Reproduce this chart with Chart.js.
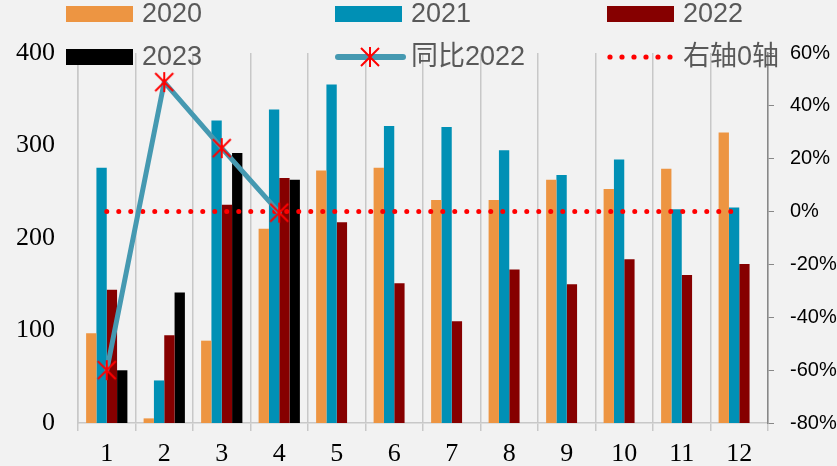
<!DOCTYPE html>
<html><head><meta charset="utf-8">
<script src="https://cdn.jsdelivr.net/npm/chart.js@4/dist/chart.umd.min.js"></script>
<style>html,body{margin:0;padding:0;background:#f2f2f2;overflow:hidden}#wrap{width:837px;height:466px;position:relative}</style>
</head><body><div id="wrap"><canvas id="c" width="837" height="466"></canvas></div>
<script>
const months = ['1','2','3','4','5','6','7','8','9','10','11','12'];
const s2020 = [97, 5, 89, 210, 273, 276, 241, 241, 263, 253, 275, 314];
const s2021 = [276, 46, 327, 339, 366, 321, 320, 295, 268, 285, 231, 233];
const s2022 = [144, 95, 236, 265, 217, 151, 110, 166, 150, 177, 160, 172];
const s2023 = [57, 141, 292, 263, null, null, null, null, null, null, null, null];
const yoy2022 = [-60, 49, 24, -0.4, null, null, null, null, null, null, null, null];
const zeroLine = [0, 0, 0, 0, 0, 0, 0, 0, 0, 0, 0, 0];
const leftTicks = [0, 100, 200, 300, 400];
const rightTicks = [-80, -60, -40, -20, 0, 20, 40, 60];

// asterisk marker (X + vertical bar) like Excel's star marker
const star = document.createElement('canvas');
star.width = 22; star.height = 22;
(function(){
  const g = star.getContext('2d');
  g.strokeStyle = '#ff0000'; g.lineWidth = 2;
  g.beginPath();
  g.moveTo(2,2); g.lineTo(20,20);
  g.moveTo(20,2); g.lineTo(2,20);
  g.moveTo(11,1); g.lineTo(11,21);
  g.stroke();
})();

const legendPlugin = {
  id: 'customLegend',
  afterDraw(chart) {
    const ctx = chart.ctx;
    const ds = chart.data.datasets;
    const cols = [66, 335, 607];
    const rows = [14, 57];
    ctx.save();
    ds.forEach((d, i) => {
      const x = cols[i % 3], y = rows[Math.floor(i / 3)];
      if (d.type === 'line' && d.borderDash) {
        ctx.fillStyle = d.borderColor;
        for (let k = 0; k < 6; k++) {
          ctx.beginPath(); ctx.arc(x + 3 + k * 12, y, 2.6, 0, Math.PI * 2); ctx.fill();
        }
      } else if (d.type === 'line') {
        ctx.strokeStyle = d.borderColor; ctx.lineWidth = 6; ctx.lineCap = 'round';
        ctx.beginPath(); ctx.moveTo(x + 3, y); ctx.lineTo(x + 68, y); ctx.stroke();
        ctx.drawImage(star, x + 35 - 11, y - 11);
      } else {
        ctx.fillStyle = d.backgroundColor;
        ctx.fillRect(x, y - 8, 67, 16);
      }
      ctx.fillStyle = '#595959';
      ctx.font = "27px 'Liberation Sans','Noto Sans CJK SC'";
      ctx.textBaseline = 'middle';
      ctx.textAlign = 'left';
      ctx.fillText(d.label, x + 76, y + 1);
    });
    ctx.restore();
  }
};

new Chart(document.getElementById('c'), {
  type: 'bar',
  data: {
    labels: months,
    datasets: [
      {type:'bar', label:'2020', data:s2020, backgroundColor:'#ED9542', yAxisID:'y', order:3},
      {type:'bar', label:'2021', data:s2021, backgroundColor:'#0090B5', yAxisID:'y', order:3},
      {type:'bar', label:'2022', data:s2022, backgroundColor:'#860000', yAxisID:'y', order:3},
      {type:'bar', label:'2023', data:s2023, backgroundColor:'#000000', yAxisID:'y', order:3},
      {type:'line', label:'同比2022', data:yoy2022, yAxisID:'y1', borderColor:'#4599B1', borderWidth:5,
        pointStyle: star, pointRadius: 9, spanGaps:false, order:0, tension:0, borderCapStyle:'round', borderJoinStyle:'round'},
      {type:'line', label:'右轴0轴', data:zeroLine, yAxisID:'y1', borderColor:'#ff0000', borderWidth:5,
        borderDash:[0,12], borderCapStyle:'round', pointRadius:0, order:1, tension:0}
    ]
  },
  options: {
    responsive: false,
    devicePixelRatio: 1,
    animation: false,
    layout: {padding: {top: 53, left: 0, right: 0, bottom: 0}},
    datasets: {bar: {categoryPercentage: 0.718, barPercentage: 1.0}},
    plugins: {legend: {display: false}, tooltip: {enabled: false}, title: {display: false}},
    scales: {
      x: {
        offset: true,
        grid: {display: true, offset: true, color: '#c8c8c8', lineWidth: 1.5, tickLength: 8, drawTicks: true},
        border: {display: true, color: '#c8c8c8', width: 1.5},
        ticks: {color: '#000', font: {family: "'Liberation Serif'", size: 26}, padding: 8, maxRotation: 0},
        afterFit(s) { s.height = 43; }
      },
      y: {
        position: 'left', min: 0, max: 400,
        afterBuildTicks(s) { s.ticks = leftTicks.map(v => ({value: v})); },
        grid: {display: false, drawTicks: false},
        border: {display: true, color: '#c8c8c8', width: 1.5},
        ticks: {color: '#000', font: {family: "'Liberation Serif'", size: 26}, padding: 23},
        afterFit(s) { s.width = 78; }
      },
      y1: {
        position: 'right', min: -80, max: 60,
        afterBuildTicks(s) { s.ticks = rightTicks.map(v => ({value: v})); },
        grid: {drawOnChartArea: false, color: '#888888', tickLength: 6, drawTicks: true},
        border: {display: true, color: '#888888', width: 1.5},
        ticks: {color: '#000', font: {family: "'Liberation Sans'", size: 20}, padding: 16,
          callback: v => v + '%'},
        afterFit(s) { s.width = 69; }
      }
    }
  },
  plugins: [legendPlugin]
});
</script>
</body></html>
